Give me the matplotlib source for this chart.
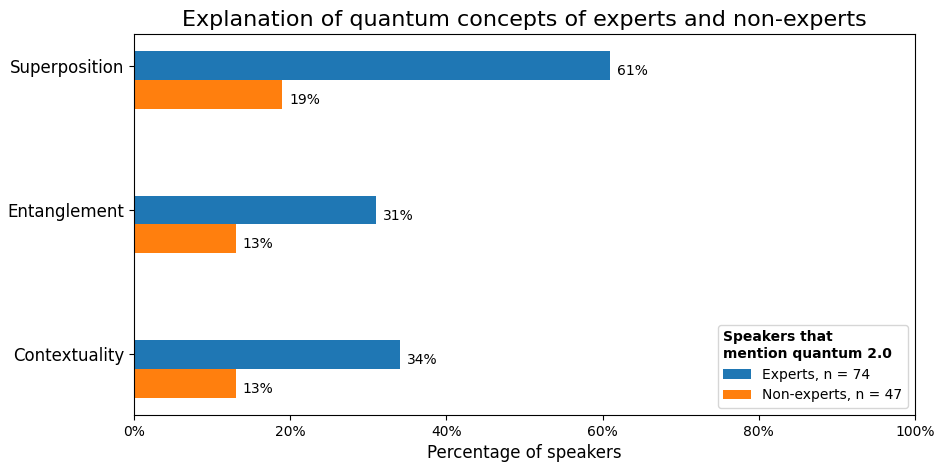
import numpy as np
import matplotlib.pyplot as plt
from matplotlib.ticker import PercentFormatter

# 数据
concepts = ["Superposition", "Entanglement", "Contextuality"]
experts = [61, 31, 34]
non_experts = [19, 13, 13]
n_experts = 74
n_non_experts = 47

y = np.arange(len(concepts))[::-1]
h = 0.2

fig = plt.figure(figsize=(9.42, 4.63), dpi=100)
ax = fig.add_axes([0.1423, 0.1037, 0.8290, 0.8229])

ax.barh(y, experts, height=h, color="#1f77b4", label=f"Experts, n = {n_experts}")
ax.barh(y - h, non_experts, height=h, color="#ff7f0e", label=f"Non-experts, n = {n_non_experts}")

# 数值标签（略微偏下）
for yy, v in zip(y, experts):
    ax.annotate(f"{v}%", (v, yy), xytext=(5, -4), textcoords="offset points",
                va="center", fontsize=10)
for yy, v in zip(y - h, non_experts):
    ax.annotate(f"{v}%", (v, yy), xytext=(5, -4), textcoords="offset points",
                va="center", fontsize=10)

ax.set_yticks(y)
ax.set_yticklabels(concepts, fontsize=12)
ax.set_xlim(0, 100)
ax.xaxis.set_major_formatter(PercentFormatter(decimals=0))
ax.tick_params(axis="x", labelsize=10)
ax.set_xlabel("Percentage of speakers", fontsize=12)
ax.set_title("Explanation of quantum concepts of experts and non-experts", fontsize=16)

leg = ax.legend(title="Speakers that\nmention quantum 2.0", loc="lower right", fontsize=10,
                title_fontproperties={"weight": "bold", "size": 10})
leg._legend_box.align = "left"

fig.savefig("out.png", dpi=100)
